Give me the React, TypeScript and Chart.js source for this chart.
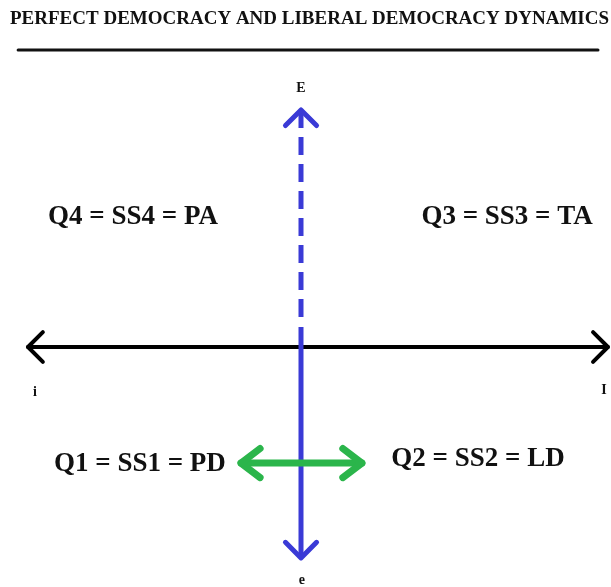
import React, { useEffect, useRef } from "react";
import { Chart, registerables } from "chart.js";

Chart.register(...registerables);

// ---- data (diagram units) ----
const TITLE = "PERFECT DEMOCRACY AND LIBERAL DEMOCRACY DYNAMICS";
const underlineX = [-9.43, 9.9];
const underlineY = 9.9;
const axisIX = [-9.1, 10.23]; // i  <-> I  (horizontal axis)
const axisEDashedY = [7.9, 0.83]; // E (dashed part)
const axisESolidY = [0.67, -7.03]; // down to e
const dynamicsX = [-2, 2.03]; // PD <-> LD
const dynamicsY = -3.87;

const quadrantLabels = ["Q4 = SS4 = PA", "Q3 = SS3 = TA", "Q1 = SS1 = PD", "Q2 = SS2 = LD"];
const quadrantX = [-5.6, 6.87, -5.37, 5.9];
const quadrantY = [4.33, 4.33, -3.9, -3.73];

const poleLabels = ["E", "i", "I", "e"];
const poleX = [0, -8.87, 10.1, 0.03];
const poleY = [8.63, -1.5, -1.43, -7.77];

const BLUE = "#3a3ad6";
const GREEN = "#2bb54b";
const BLACK = "#000000";
const SERIF = "'Liberation Serif', 'Times New Roman', serif";

const arrowPlugin = {
  id: "arrowheads",
  afterDatasetsDraw(chart: any) {
    const ctx = chart.ctx;
    chart.data.datasets.forEach((ds: any, i: number) => {
      const meta = chart.getDatasetMeta(i);
      const pts = meta.data;
      if (!pts || pts.length < 2) return;
      const draw = (tip: any, from: any) => {
        const ang = Math.atan2(tip.y - from.y, tip.x - from.x);
        const L = ds.arrowLen || 20;
        const a = ds.arrowAngle || Math.PI / 4;
        ctx.save();
        ctx.strokeStyle = ds.borderColor;
        ctx.lineWidth = ds.borderWidth;
        ctx.lineCap = "round";
        ctx.lineJoin = "round";
        ctx.setLineDash([]);
        ctx.beginPath();
        ctx.moveTo(tip.x - L * Math.cos(ang - a), tip.y - L * Math.sin(ang - a));
        ctx.lineTo(tip.x, tip.y);
        ctx.lineTo(tip.x - L * Math.cos(ang + a), tip.y - L * Math.sin(ang + a));
        ctx.stroke();
        ctx.restore();
      };
      if (ds.arrowStart) draw(pts[0], pts[1]);
      if (ds.arrowEnd) draw(pts[pts.length - 1], pts[pts.length - 2]);
    });
  },
};

const textPlugin = {
  id: "diagramText",
  afterDraw(chart: any) {
    const ctx = chart.ctx;
    const xs = chart.scales.x;
    const ys = chart.scales.y;
    ctx.save();
    ctx.fillStyle = "#111";
    ctx.textBaseline = "middle";
    ctx.textAlign = "left";
    ctx.font = `bold 19px ${SERIF}`;
    ctx.fillText(TITLE, 10, 19);
    ctx.textAlign = "center";
    ctx.font = `bold 27px ${SERIF}`;
    quadrantLabels.forEach((t, i) => {
      ctx.fillText(t, xs.getPixelForValue(quadrantX[i]), ys.getPixelForValue(quadrantY[i]));
    });
    ctx.font = `bold 14px ${SERIF}`;
    poleLabels.forEach((t, i) => {
      ctx.fillText(t, xs.getPixelForValue(poleX[i]), ys.getPixelForValue(poleY[i]));
    });
    ctx.restore();
  },
};

export default function App() {
  const ref = useRef<HTMLCanvasElement>(null);
  useEffect(() => {
    if (!ref.current) return;
    const chart = new Chart(ref.current, {
      type: "scatter",
      data: {
        datasets: [
          {
            data: [{ x: dynamicsX[0], y: dynamicsY }, { x: dynamicsX[1], y: dynamicsY }],
            borderColor: GREEN,
            borderWidth: 7,
            borderCapStyle: "round",
            showLine: true,
            pointRadius: 0,
            order: 0,
            arrowStart: true,
            arrowEnd: true,
            arrowLen: 24,
            arrowAngle: 0.65,
          } as any,
          {
            data: [{ x: 0, y: axisEDashedY[0] }, { x: 0, y: axisEDashedY[1] }],
            borderColor: BLUE,
            borderWidth: 5,
            borderDash: [18, 9],
            showLine: true,
            pointRadius: 0,
            order: 1,
            arrowStart: true,
            arrowLen: 22,
          } as any,
          {
            data: [{ x: 0, y: axisESolidY[0] }, { x: 0, y: axisESolidY[1] }],
            borderColor: BLUE,
            borderWidth: 5,
            showLine: true,
            pointRadius: 0,
            order: 1,
            arrowEnd: true,
            arrowLen: 22,
          } as any,
          {
            data: [{ x: axisIX[0], y: 0 }, { x: axisIX[1], y: 0 }],
            borderColor: BLACK,
            borderWidth: 4,
            borderCapStyle: "round",
            showLine: true,
            pointRadius: 0,
            order: 2,
            arrowStart: true,
            arrowEnd: true,
            arrowLen: 21,
          } as any,
          {
            data: [{ x: underlineX[0], y: underlineY }, { x: underlineX[1], y: underlineY }],
            borderColor: "#111",
            borderWidth: 3,
            borderCapStyle: "round",
            showLine: true,
            pointRadius: 0,
            order: 3,
          } as any,
        ],
      },
      options: {
        animation: false,
        responsive: false,
        devicePixelRatio: 1,
        layout: { padding: 0 },
        scales: {
          x: { type: "linear", display: false, min: -301 / 30, max: 310 / 30 },
          y: { type: "linear", display: false, min: -240 / 30, max: 347 / 30 },
        },
        plugins: {
          legend: { display: false },
          tooltip: { enabled: false },
          title: { display: false },
        },
      },
      plugins: [arrowPlugin, textPlugin],
    });
    return () => chart.destroy();
  }, []);
  return (
    <canvas
      ref={ref}
      width={611}
      height={587}
      style={{ position: "absolute", left: 0, top: 0, width: 611, height: 587, background: "#fff" }}
    />
  );
}
